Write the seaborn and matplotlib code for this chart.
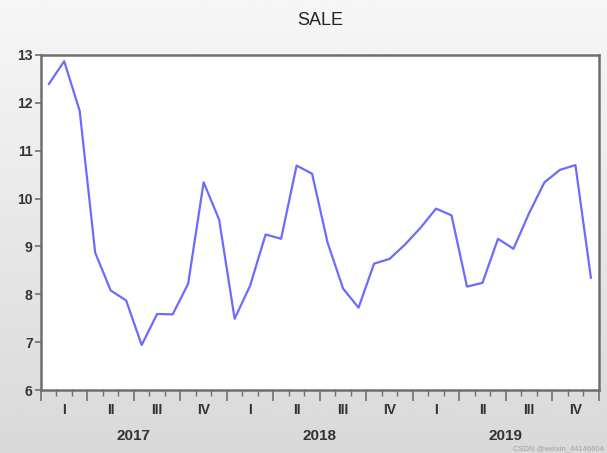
import numpy as np
import pandas as pd
import matplotlib
matplotlib.use("Agg")
import matplotlib.pyplot as plt
import seaborn as sns

# ---- data ----
sale = [12.39, 12.87, 11.83, 8.87, 8.08, 7.87, 6.94, 7.59, 7.58, 8.22, 10.34, 9.56,
        7.49, 8.18, 9.25, 9.16, 10.69, 10.52, 9.08, 8.12, 7.72, 8.64, 8.74, 9.04,
        9.39, 9.79, 9.65, 8.16, 8.24, 9.16, 8.95, 9.69, 10.34, 10.60, 10.70, 8.34]
years = ["2017", "2018", "2019"]
quarters = ["I", "II", "III", "IV"]
yticks = [6, 7, 8, 9, 10, 11, 12, 13]

df = pd.DataFrame({"month": np.arange(len(sale)), "SALE": sale})

sns.set_style("white")
plt.rcParams["font.family"] = ["Liberation Sans", "DejaVu Sans"]

fig = plt.figure(figsize=(6.07, 4.53), dpi=100)

# gradient background
bg = fig.add_axes([0, 0, 1, 1], zorder=-10)
grad = np.linspace(0.965, 0.85, 256).reshape(-1, 1)
bg.imshow(grad, aspect="auto", cmap="gray", vmin=0, vmax=1, extent=[0, 1, 0, 1])
bg.axis("off")

ax = fig.add_axes([0.0675, 0.139, 0.9188, 0.7396])
ax.set_facecolor("white")
sns.lineplot(data=df, x="month", y="SALE", ax=ax, color="#6b6bff", linewidth=1.6)

ax.set_xlim(-0.5, len(sale) - 0.5)
ax.set_ylim(6, 13)
ax.set_yticks(yticks)
ax.set_yticklabels([str(t) for t in yticks], fontsize=10, fontweight="bold", color="#333333")
ax.tick_params(axis="y", direction="out", length=4, width=1.2, color="#707070", pad=2, left=True)

# x ticks: quarter boundaries long, month boundaries short
ax.set_xticks(np.arange(-0.5, len(sale), 3))
ax.set_xticks(np.arange(-0.5, len(sale), 1), minor=True)
ax.set_xticklabels([])
ax.tick_params(axis="x", which="major", direction="out", length=8, width=1.2, color="#707070", bottom=True)
ax.tick_params(axis="x", which="minor", direction="out", length=4, width=1.0, color="#707070", bottom=True)

for s in ax.spines.values():
    s.set_color("#6e6e6e")
    s.set_linewidth(1.8)

ax.set_xlabel("")
ax.set_ylabel("")

# quarter labels
for yi, yr in enumerate(years):
    for qi, q in enumerate(quarters):
        xc = yi * 12 + qi * 3 + 1
        ax.annotate(q, xy=(xc, 0), xycoords=("data", "axes fraction"),
                    xytext=(0, -14.5), textcoords="offset points",
                    ha="center", va="center", fontsize=10, fontweight="bold", color="#333333")
    ax.annotate(yr, xy=(yi * 12 + 5.5, 0), xycoords=("data", "axes fraction"),
                xytext=(0, -33), textcoords="offset points",
                ha="center", va="center", fontsize=11, fontweight="bold", color="#333333")

fig.text(0.527, 0.955, "SALE", ha="center", va="center", fontsize=13, color="#222222")

fig.text(0.995, 0.001, "CSDN @weixin_44146604", ha="right", va="bottom",
         fontsize=5.5, color="#9a9a9a", alpha=0.9)

fig.savefig("out.png", dpi=100)
